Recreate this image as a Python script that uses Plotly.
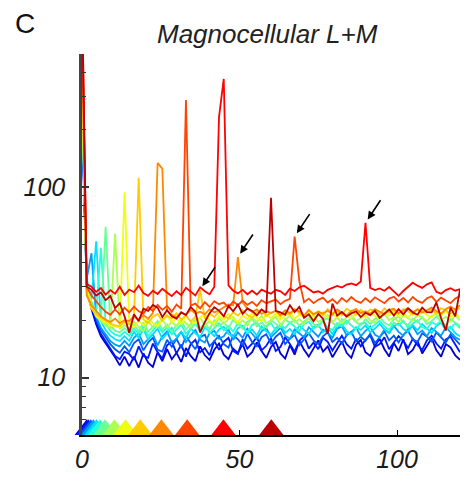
import numpy as np
import plotly.graph_objects as go

# frequency bins (Hz)
freq_hz = np.arange(81) * 1.5

# stimulus temporal frequencies (Hz) -> triangles
stim_freqs = [1.5, 2.0, 2.8, 3.6, 4.6, 5.7, 7.3, 10.3, 13.8, 18.5, 25.2, 33.4, 44.9, 60.1]

# power spectra, one per stimulus frequency
psd_01 = [250, 29, 23, 19, 16.5, 15.2, 13.9, 12.8, 11.6, 12.9,
          11.5, 12.9, 11.3, 13.4, 12.0, 11.4, 13.6, 12.2, 14.1, 12.5,
          13.5, 12.1, 14.3, 13.0, 12.2, 14.6, 13.1, 12.4, 14.0, 15.1,
          13.2, 12.5, 14.2, 13.5, 15.0, 12.9, 13.6, 15.3, 13.8, 12.7,
          14.5, 15.4, 13.4, 12.6, 14.8, 13.2, 15.6, 14.0, 12.9, 14.3,
          15.7, 13.7, 14.6, 12.8, 14.2, 15.5, 13.5, 12.7, 14.9, 15.8,
          13.6, 13.0, 14.7, 16.0, 14.1, 12.9, 15.2, 13.8, 15.9, 13.3,
          14.0, 15.6, 13.4, 14.8, 16.1, 13.9, 12.9, 15.0, 14.4, 13.1,
          12.4]
psd_02 = [220, 31, 24, 19.5, 17, 15.6, 14.2, 13.0, 12.5, 13.7,
          13.3, 12.4, 14.6, 13.0, 12.7, 15.1, 13.6, 12.6, 14.8, 15.5,
          13.4, 14.9, 12.9, 15.0, 15.8, 13.6, 14.3, 13.1, 15.6, 14.0,
          15.4, 16.2, 13.8, 13.3, 15.9, 14.2, 15.1, 16.4, 13.9, 14.7,
          16.1, 13.8, 14.5, 16.3, 15.0, 13.7, 15.6, 16.5, 14.2, 15.3,
          14.1, 16.2, 15.4, 13.9, 15.2, 16.6, 15.0, 14.2, 16.0, 14.6,
          15.8, 16.7, 14.5, 15.0, 16.3, 14.1, 15.3, 16.5, 15.6, 14.3,
          16.0, 14.8, 14.0, 15.7, 16.6, 15.1, 14.2, 15.9, 16.4, 14.9,
          13.6]
psd_03 = [240, 32, 24.5, 20.5, 17.8, 16.2, 15.0, 14.1, 13.5, 14.6,
          13.6, 15.2, 15.9, 13.9, 15.3, 16.2, 14.0, 13.7, 15.8, 14.5,
          16.0, 14.3, 16.5, 15.2, 14.1, 16.3, 16.8, 14.6, 15.5, 16.6,
          15.0, 14.4, 16.7, 15.9, 14.8, 17.0, 15.4, 14.6, 16.3, 16.9,
          15.1, 16.4, 17.2, 15.0, 16.0, 16.8, 14.8, 15.9, 17.1, 15.7,
          15.0, 16.5, 17.3, 15.4, 16.2, 15.1, 16.7, 17.4, 15.5, 16.4,
          15.6, 17.0, 15.2, 16.3, 17.5, 15.7, 16.6, 15.3, 16.8, 17.6,
          15.9, 15.4, 17.1, 16.4, 15.5, 17.3, 16.2, 15.3, 16.9, 15.8,
          14.9]
psd_04 = [260, 33, 45, 21, 18.3, 16.8, 15.6, 14.9, 14.6, 15.6,
          14.7, 16.2, 17.1, 15.0, 16.0, 16.9, 14.8, 16.5, 17.5, 15.3,
          16.0, 17.4, 15.4, 16.7, 17.8, 15.8, 15.3, 17.1, 17.6, 16.0,
          16.5, 17.9, 15.8, 17.3, 16.2, 18.1, 17.0, 15.9, 17.5, 18.2,
          16.3, 17.2, 18.3, 16.6, 16.0, 17.9, 17.1, 16.3, 18.4, 17.3,
          16.4, 17.9, 17.2, 16.2, 18.1, 18.6, 16.7, 17.4, 18.3, 16.5,
          17.6, 18.5, 16.8, 16.3, 17.9, 17.2, 18.7, 17.4, 16.6, 18.0,
          18.6, 16.9, 17.7, 16.5, 18.2, 17.4, 16.6, 18.4, 17.3, 16.3,
          15.8]
psd_05 = [280, 33, 26, 52, 19.8, 17.8, 16.6, 15.9, 15.6, 16.5,
          15.6, 17.4, 16.2, 17.9, 15.8, 16.9, 18.1, 16.0, 17.1, 18.2,
          16.4, 17.5, 16.1, 18.2, 17.1, 16.3, 18.4, 17.5, 16.5, 17.9,
          18.5, 17.0, 16.4, 18.2, 18.7, 17.1, 17.9, 16.6, 18.6, 17.5,
          16.8, 18.2, 18.9, 17.2, 18.0, 16.9, 18.8, 17.8, 17.0, 18.5,
          19.0, 17.3, 18.2, 17.0, 18.5, 19.1, 17.5, 16.9, 18.4, 17.8,
          18.8, 17.3, 18.1, 19.2, 17.9, 17.1, 18.6, 19.3, 18.0, 17.4,
          18.9, 17.7, 19.1, 18.1, 17.2, 18.7, 19.4, 17.8, 18.5, 17.1,
          16.5]
psd_06 = [300, 32, 25, 22, 48, 19.3, 17.6, 16.8, 16.5, 17.4,
          16.6, 18.1, 17.0, 18.6, 16.5, 17.7, 18.9, 17.3, 18.3, 16.9,
          18.0, 19.0, 17.0, 18.1, 19.2, 17.5, 18.6, 17.2, 18.3, 19.3,
          17.7, 18.6, 17.5, 19.4, 18.3, 17.3, 18.9, 19.5, 17.9, 18.7,
          19.3, 17.7, 18.8, 18.2, 19.5, 18.5, 17.6, 19.1, 19.7, 18.1,
          18.8, 19.8, 18.3, 17.8, 19.3, 18.6, 19.9, 18.8, 17.9, 19.2,
          19.4, 18.1, 19.0, 19.9, 18.6, 17.8, 19.4, 18.8, 19.9, 18.3,
          19.2, 20.0, 18.4, 18.0, 19.6, 18.9, 19.9, 18.6, 18.1, 19.3,
          18.2]
psd_07 = [320, 31, 25, 21.5, 20, 62, 18.8, 17.6, 17.3, 18.2,
          17.2, 18.9, 17.6, 19.5, 17.4, 18.6, 19.8, 17.9, 19.0, 17.5,
          18.8, 19.9, 17.9, 19.1, 20.2, 18.2, 19.3, 18.0, 20.0, 18.7,
          19.5, 18.2, 20.2, 19.0, 18.1, 19.7, 20.5, 18.6, 19.5, 18.3,
          20.0, 19.2, 18.4, 20.3, 19.3, 20.2, 18.7, 19.7, 20.6, 19.1,
          18.5, 20.0, 20.5, 19.4, 18.6, 20.3, 19.2, 20.8, 19.6, 18.8,
          20.3, 19.1, 20.4, 20.9, 19.4, 18.8, 20.2, 21.0, 19.5, 18.9,
          20.4, 19.6, 20.8, 19.1, 19.8, 21.0, 19.5, 18.9, 20.3, 19.4,
          18.7]
psd_08 = [340, 30, 24, 21, 19.8, 18.8, 18.2, 57, 18.0, 18.9,
          18.0, 19.6, 18.5, 17.5, 19.9, 18.3, 19.2, 20.3, 18.4, 19.7,
          18.6, 20.3, 19.3, 18.3, 19.9, 20.7, 18.8, 19.8, 18.6, 20.5,
          19.2, 20.3, 20.9, 19.0, 20.0, 18.8, 20.7, 19.6, 21.1, 19.3,
          20.0, 20.9, 19.0, 20.2, 21.2, 19.5, 20.3, 19.2, 20.6, 21.3,
          19.6, 20.4, 21.4, 19.7, 20.7, 19.3, 20.9, 21.5, 19.8, 20.5,
          21.2, 20.0, 19.5, 20.9, 21.6, 20.0, 20.8, 19.6, 21.3, 20.5,
          19.9, 21.4, 20.7, 19.8, 21.1, 21.7, 20.2, 20.9, 19.7, 21.2,
          20.0]
psd_09 = [360, 29, 23.5, 21, 20.3, 19.4, 18.8, 18.5, 18.3, 94,
          19.0, 18.4, 19.9, 18.8, 20.5, 19.3, 18.6, 20.2, 21.3, 19.5,
          20.6, 19.1, 21.0, 19.8, 19.2, 20.7, 21.5, 19.9, 19.4, 21.1,
          20.1, 21.6, 20.4, 19.6, 21.2, 20.3, 21.8, 20.6, 19.9, 21.4,
          20.5, 21.7, 20.2, 21.1, 22.0, 20.4, 21.4, 20.7, 21.9, 20.3,
          21.3, 22.1, 20.6, 21.5, 20.8, 21.9, 21.0, 20.5, 21.7, 22.2,
          20.7, 21.8, 21.1, 20.6, 22.1, 21.2, 22.3, 20.9, 21.7, 20.8,
          21.9, 21.1, 22.2, 21.3, 20.7, 22.0, 21.2, 22.4, 20.9, 21.6,
          20.8]
psd_10 = [380, 28, 23, 21.5, 20.6, 19.8, 19.2, 18.8, 18.6, 19.6,
          19.1, 20.6, 112, 20.2, 19.3, 20.9, 21.6, 19.9, 21.2, 20.4,
          21.8, 20.1, 21.3, 19.7, 20.9, 29, 20.4, 21.7, 20.8, 22.2,
          21.0, 20.5, 22.0, 21.2, 22.6, 21.3, 20.6, 22.1, 22.8, 21.1,
          21.9, 22.5, 20.9, 22.2, 21.4, 22.9, 21.7, 21.0, 22.6, 21.5,
          22.3, 21.2, 22.9, 21.8, 22.5, 21.3, 23.0, 22.1, 21.4, 22.7,
          21.7, 22.8, 22.4, 21.5, 23.1, 22.0, 22.7, 21.6, 22.9, 22.3,
          21.4, 23.0, 22.5, 21.9, 22.8, 21.7, 23.2, 22.6, 21.6, 22.7,
          23.1]
psd_11 = [600, 27, 24, 22.5, 21.0, 20.2, 19.6, 20.4, 19.3, 20.0,
          19.8, 21.0, 20.2, 21.3, 20.4, 21.8, 134, 125, 22.5, 21.4,
          20.8, 22.1, 21.4, 22.7, 21.7, 22.2, 21.5, 22.9, 22.0, 22.6,
          23.5, 24.2, 24.0, 43, 24.8, 23.0, 22.1, 22.8, 21.6, 22.3,
          21.9, 22.4, 21.3, 22.6, 21.8, 22.8, 22.3, 21.1, 22.7, 21.5,
          22.2, 21.7, 22.5, 21.4, 22.8, 21.9, 21.2, 22.4, 22.9, 21.8,
          22.3, 21.6, 22.9, 22.2, 21.5, 22.7, 23.0, 21.8, 22.4, 23.2,
          22.1, 22.8, 21.9, 22.5, 23.3, 22.4, 21.7, 22.9, 23.6, 22.8,
          24.0]
psd_12 = [800, 30, 27, 25, 23.5, 22.2, 21.4, 22.8, 21.5, 23.3,
          22.0, 23.6, 22.3, 21.7, 23.5, 22.4, 24.1, 22.7, 23.8, 22.2,
          24.2, 23.0, 287, 23.9, 24.5, 23.1, 24.9, 23.5, 25.2, 24.3,
          24.8, 23.4, 25.1, 24.0, 25.4, 24.1, 25.0, 23.8, 25.5, 24.6,
          25.2, 25.7, 24.3, 25.3, 25.9, 55, 32, 24.9, 26.0, 24.6,
          25.6, 26.3, 24.8, 25.8, 24.5, 26.2, 25.0, 26.5, 25.3, 24.7,
          26.1, 24.9, 26.4, 25.6, 24.6, 26.0, 26.6, 25.1, 26.2, 24.8,
          26.5, 25.3, 24.7, 26.1, 26.7, 25.0, 26.3, 25.4, 24.6, 26.0,
          26.8]
psd_13 = [1100, 31, 30, 28.2, 29.5, 27.3, 28.8, 27.6, 30.0, 27.2,
          29.0, 28.1, 30.4, 27.8, 26.9, 28.6, 27.5, 29.3, 28.0, 26.8,
          28.4, 27.1, 29.6, 28.3, 27.0, 29.8, 28.4, 27.4, 30.0, 234,
          370, 30.5, 28.6, 27.7, 28.9, 27.4, 28.6, 27.3, 29.0, 28.2,
          27.6, 28.9, 28.4, 27.2, 29.3, 28.5, 29.8, 30.4, 29.2, 28.0,
          28.4, 27.6, 28.9, 29.5, 30.3, 29.7, 30.8, 31.2, 30.6, 32.0,
          65, 29.6, 28.8, 29.4, 28.6, 29.9, 28.2, 26.9, 28.5, 29.8,
          31.5, 30.4, 29.6, 30.9, 31.6, 28.2, 27.6, 28.8, 29.5, 28.6,
          29.2]
psd_14 = [1000, 30, 29, 27, 28, 25.5, 26.8, 23.2, 24.6, 21.0,
          17.2, 21.5, 19.8, 23.0, 22.4, 24.1, 23.3, 20.8, 22.6, 21.0,
          20.4, 22.0, 21.3, 23.5, 22.2, 17.3, 19.6, 21.8, 23.4, 22.5,
          21.0, 23.8, 22.3, 24.2, 21.6, 23.1, 22.4, 21.2, 22.8, 21.9,
          88, 22.4, 22.0, 21.4, 24.0, 22.1, 23.5, 20.6, 21.5, 19.8,
          21.6, 20.4, 17.0, 24.5, 21.2, 22.1, 20.9, 21.8, 22.3, 20.8,
          21.9, 21.3, 22.4, 20.6, 21.7, 22.8, 21.2, 22.9, 21.5, 23.1,
          22.0, 21.4, 23.3, 22.1, 22.0, 24.8, 20.5, 17.7, 23.3, 21.0,
          29]

spectra = [psd_01, psd_02, psd_03, psd_04, psd_05, psd_06, psd_07,
           psd_08, psd_09, psd_10, psd_11, psd_12, psd_13, psd_14]

# second-harmonic peaks marked with arrows: (series index, frequency bin index)
arrow_marks = [(9, 25), (10, 33), (11, 45), (12, 60)]

title_text = "Magnocellular L+M"
panel_label = "C"
x_ticks = [0, 50, 100]
y_ticks = [10, 100]


def jet(t):
    r = min(max(1.5 - abs(4 * t - 3), 0), 1)
    g = min(max(1.5 - abs(4 * t - 2), 0), 1)
    b = min(max(1.5 - abs(4 * t - 1), 0), 1)
    return "rgb(%d,%d,%d)" % (round(r * 255), round(g * 255), round(b * 255))


n = len(spectra)
colors = [jet(0.08 + i * 0.86 / (n - 1)) for i in range(n)]

W, H = 465, 487
ML, MR, MT, MB = 82, 5, 54, 52
plot_h = H - MT - MB
y_lo, y_hi = 5, 500
px_per_dec = plot_h / (np.log10(y_hi) - np.log10(y_lo))

fig = go.Figure()
for vals, col in zip(spectra, colors):
    fig.add_trace(go.Scatter(x=freq_hz, y=vals, mode="lines",
                             line=dict(color=col, width=1.8),
                             hoverinfo="skip", showlegend=False))

tri_size = 21
tri_y = y_lo * 10 ** ((tri_size / 4) / px_per_dec)
fig.add_trace(go.Scatter(x=stim_freqs, y=[tri_y] * len(stim_freqs), mode="markers",
                         marker=dict(symbol="triangle-up", size=tri_size, color=colors,
                                     line=dict(width=0)),
                         cliponaxis=False, hoverinfo="skip", showlegend=False))

tick_font = dict(family="Liberation Sans, Arial, sans-serif", size=25, color="#1a1a1a",
                 style="italic")

annotations = []
for si, k in arrow_marks:
    annotations.append(dict(x=freq_hz[k], y=np.log10(spectra[si][k]), xref="x", yref="y",
                            text="", showarrow=True, arrowhead=2, arrowsize=1,
                            arrowwidth=1.6, arrowcolor="black", ax=16, ay=-24,
                            standoff=4))
annotations.append(dict(x=(267 - ML) / (W - ML - MR), y=1 + (MT - 34) / plot_h,
                        xref="paper", yref="paper", text=title_text, showarrow=False,
                        xanchor="center", yanchor="middle",
                        font=dict(family="Liberation Sans, Arial, sans-serif", size=26,
                                  color="#222", style="italic")))
annotations.append(dict(x=(13 - ML) / (W - ML - MR), y=1 + (MT - 23) / plot_h,
                        xref="paper", yref="paper", text=panel_label, showarrow=False,
                        xanchor="left", yanchor="middle",
                        font=dict(family="Liberation Sans, Arial, sans-serif", size=28,
                                  color="#111")))

minor_vals = [6, 7, 8, 9, 20, 30, 40, 50, 60, 70, 80, 90, 200, 300, 400]

fig.update_layout(
    width=W, height=H, margin=dict(l=ML, r=MR, t=MT, b=MB),
    plot_bgcolor="white", paper_bgcolor="white", showlegend=False,
    annotations=annotations,
    xaxis=dict(range=[0, 120], tickvals=x_ticks, ticks="inside", ticklen=5,
               tickwidth=1.2, tickcolor="black", showline=True, linecolor="black",
               linewidth=1.5, showgrid=False, zeroline=False, tickfont=tick_font,
               ticklabelstandoff=1),
    yaxis=dict(type="log", range=[np.log10(y_lo), np.log10(y_hi)], tickvals=y_ticks,
               ticktext=[str(v) for v in y_ticks], ticks="inside", ticklen=7,
               tickwidth=1.5, tickcolor="#333", showline=True, linecolor="#444",
               linewidth=2.5, showgrid=False, zeroline=False, tickfont=tick_font,
               ticklabelstandoff=9,
               minor=dict(tickvals=minor_vals, ticks="inside", ticklen=4,
                          tickwidth=1.2, tickcolor="#333")),
)

fig.write_html("out.html")
